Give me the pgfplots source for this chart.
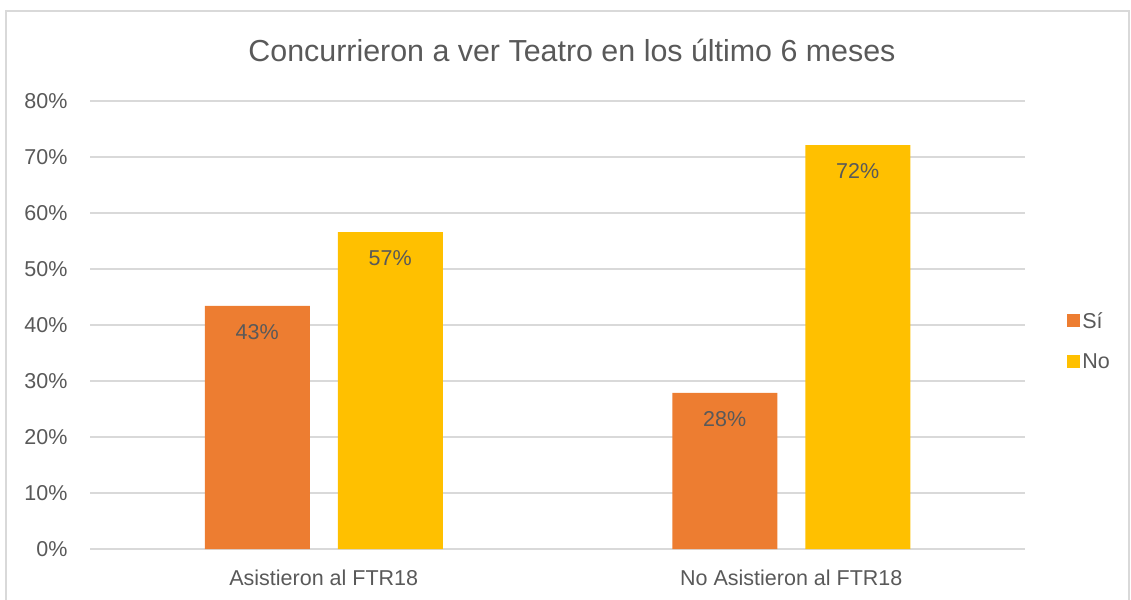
\documentclass[border=0pt]{standalone}
\usepackage{pgfplots}
\pgfplotsset{compat=1.18}
\usepackage{fontspec}
\setmainfont{Liberation Sans}
\definecolor{txt}{HTML}{595959}
\definecolor{gridc}{HTML}{D9D9D9}
\definecolor{cOr}{HTML}{ED7D31}
\definecolor{cYe}{HTML}{FFC000}
\begin{document}
\begin{tikzpicture}
\useasboundingbox (0,0) rectangle (1131pt,599pt);
\draw[gridc, line width=1.5pt] (6pt,-10pt) -- (6pt,588pt) -- (1129pt,588pt) -- (1129pt,-10pt);
\begin{axis}[
  at={(90pt,50pt)}, anchor=south west,
  scale only axis, width=935pt, height=448pt,
  ymin=0, ymax=80, xmin=-0.5, xmax=1.5,
  ybar=28pt, bar width=105pt,
  xtick={0,1}, xticklabels={Asistieron al FTR18, No Asistieron al FTR18},
  ytick={0,10,...,80},
  yticklabel={\pgfmathprintnumber{\tick}\%},
  /pgf/number format/assume math mode=true,
  ymajorgrids=true, xmajorgrids=false, major grid style={draw=gridc, line width=1.2pt},
  axis x line*=bottom, axis y line*=left,
  x axis line style={draw=gridc, line width=1.2pt, -},
  y axis line style={draw=none},
  major tick length=0pt,
  tick label style={font=\fontsize{21.5}{25}\selectfont, text=txt},
  yticklabel style={xshift=-19pt},
  xticklabel style={yshift=-17pt},
  title={Concurrieron a ver Teatro en los último 6 meses},
  title style={at={(rel axis cs:0.5155,1.1004)}, anchor=center, font=\fontsize{30.4}{36}\selectfont, text=txt},
  nodes near coords={\pgfmathprintnumber[fixed,precision=0]{\pgfplotspointmeta}\%},
  every node near coord/.append style={anchor=north, yshift=-15pt, font=\fontsize{21.5}{25}\selectfont, text=txt},
  legend style={at={(rel axis cs:1.045,0.464)}, anchor=west, draw=none, fill=none,
    font=\fontsize{21.5}{25}\selectfont, text=txt, row sep=20pt, inner sep=0pt},
  legend cell align=left,
  legend image code/.code={\fill[#1] (0pt,-6.5pt) rectangle (13pt,6.5pt);},
]
\addplot[fill=cOr, draw=none] coordinates {(0,43.4) (1,27.9)};
\addplot[fill=cYe, draw=none] coordinates {(0,56.6) (1,72.1)};
\legend{Sí, No}
\end{axis}
\end{tikzpicture}
\end{document}
